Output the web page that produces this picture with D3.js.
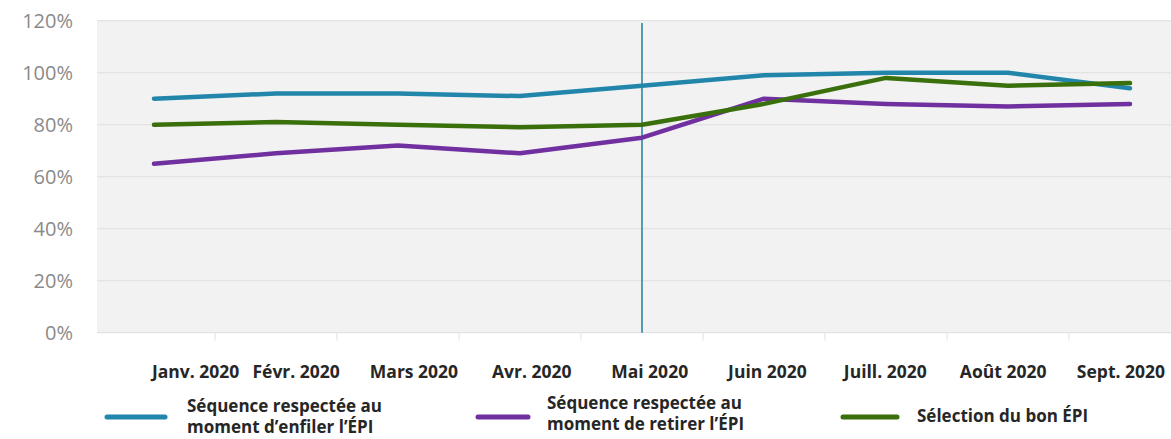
<!DOCTYPE html>
<html>
<head>
<meta charset="utf-8">
<script src="https://cdn.jsdelivr.net/npm/d3@7"></script>
<style>
  html, body { margin: 0; padding: 0; background: #ffffff; }
  svg { display: block; }
</style>
</head>
<body>
<svg id="chart" width="1171" height="439"></svg>
<script>
// ---- Data ----
const months = ["Janv. 2020", "Févr. 2020", "Mars 2020", "Avr. 2020", "Mai 2020", "Juin 2020", "Juill. 2020", "Août 2020", "Sept. 2020"];
const enfiler = [0.90, 0.92, 0.92, 0.91, 0.95, 0.99, 1.00, 1.00, 0.94];
const retirer = [0.65, 0.69, 0.72, 0.69, 0.75, 0.90, 0.88, 0.87, 0.88];
const selection = [0.80, 0.81, 0.80, 0.79, 0.80, 0.88, 0.98, 0.95, 0.96];
const yTicks = [0, 0.2, 0.4, 0.6, 0.8, 1.0, 1.2];
const markerMonth = "Mai 2020";
const seriesNames = [
  ["Séquence respectée au", "moment d’enfiler l’ÉPI"],
  ["Séquence respectée au", "moment de retirer l’ÉPI"],
  ["Sélection du bon ÉPI"]
];

// ---- Setup ----
const svg = d3.select("#chart");
const font = "'Open Sans', 'DejaVu Sans', sans-serif";
const colors = ["#2286ab", "#7030a0", "#3a700c"];
const series = [enfiler, retirer, selection];

const plot = { left: 97, right: 1171, top: 21, bottom: 333 };

const x = d3.scaleBand().domain(months).range([93, 1191]).paddingInner(0).paddingOuter(0);
const xc = m => x(m) + x.bandwidth() / 2;
const xLabel = d3.scaleBand().domain(months).range([119.4, 1179.9]);
const y = d3.scaleLinear().domain([0, 1.2]).range([332.7, 20.7]);

// plot background
svg.append("rect")
  .attr("x", plot.left).attr("y", plot.top)
  .attr("width", plot.right - plot.left).attr("height", plot.bottom - plot.top)
  .attr("fill", "#f2f2f2");

// gridlines
svg.append("g").selectAll("line").data(yTicks.slice(1)).join("line")
  .attr("x1", plot.left).attr("x2", plot.right)
  .attr("y1", d => y(d)).attr("y2", d => y(d))
  .attr("stroke", "#e3e3e3").attr("stroke-width", 1.2);

// y axis labels
svg.append("g").selectAll("text").data(yTicks).join("text")
  .attr("x", 73).attr("y", d => y(d))
  .attr("dy", "0.36em")
  .attr("text-anchor", "end")
  .attr("font-family", font).attr("font-size", 20)
  .attr("fill", "#8a8a8a")
  .text(d => d3.format(".0%")(d));

// x axis baseline and ticks between categories
svg.append("line")
  .attr("x1", plot.left).attr("x2", plot.right)
  .attr("y1", y(0)).attr("y2", y(0))
  .attr("stroke", "#dcdcdc").attr("stroke-width", 1);
svg.append("g").selectAll("line").data(months.slice(1)).join("line")
  .attr("x1", d => x(d)).attr("x2", d => x(d))
  .attr("y1", y(0)).attr("y2", y(0) + 8)
  .attr("stroke", "#e0e0e0").attr("stroke-width", 1);

// x labels
const labels = svg.append("g").selectAll("text").data(months).join("text")
  .attr("x", d => xLabel(d) + xLabel.bandwidth() / 2)
  .attr("y", 378)
  .attr("text-anchor", "middle")
  .attr("font-family", font).attr("font-size", 17.5).attr("font-weight", "bold")
  .attr("fill", "#262626")
  .text(d => d);
// avoid overlap on the left side
let minLeft = xc(months[0]) - 4;
labels.each(function () {
  const bb = this.getBBox();
  if (bb.x < minLeft) {
    const shift = minLeft - bb.x;
    d3.select(this).attr("x", +d3.select(this).attr("x") + shift);
    minLeft = bb.x + shift + bb.width + 5;
  } else {
    minLeft = bb.x + bb.width + 5;
  }
});

// vertical marker line
svg.append("line")
  .attr("x1", xc(markerMonth)).attr("x2", xc(markerMonth))
  .attr("y1", 23).attr("y2", y(0))
  .attr("stroke", "#2a85a8").attr("stroke-width", 1.6);

// series lines
const line = d3.line().x((d, i) => xc(months[i])).y(d => y(d));
series.forEach((s, i) => {
  svg.append("path")
    .datum(s)
    .attr("d", line)
    .attr("fill", "none")
    .attr("stroke", colors[i])
    .attr("stroke-width", 4.5)
    .attr("stroke-linejoin", "round")
    .attr("stroke-linecap", "round");
});

// legend
const legend = [
  { x1: 107, x2: 165, tx: 187, baselines: [412, 433] },
  { x1: 478, x2: 528, tx: 547, baselines: [409, 430] },
  { x1: 843, x2: 897, tx: 917, baselines: [422] }
];
legend.forEach((L, i) => {
  svg.append("line")
    .attr("x1", L.x1).attr("x2", L.x2).attr("y1", 417).attr("y2", 417)
    .attr("stroke", colors[i]).attr("stroke-width", 5).attr("stroke-linecap", "round");
  seriesNames[i].forEach((t, j) => {
    svg.append("text")
      .attr("x", L.tx).attr("y", L.baselines[j])
      .attr("font-family", font).attr("font-size", 17).attr("font-weight", "bold")
      .attr("fill", "#262626")
      .text(t);
  });
});
</script>
</body>
</html>
